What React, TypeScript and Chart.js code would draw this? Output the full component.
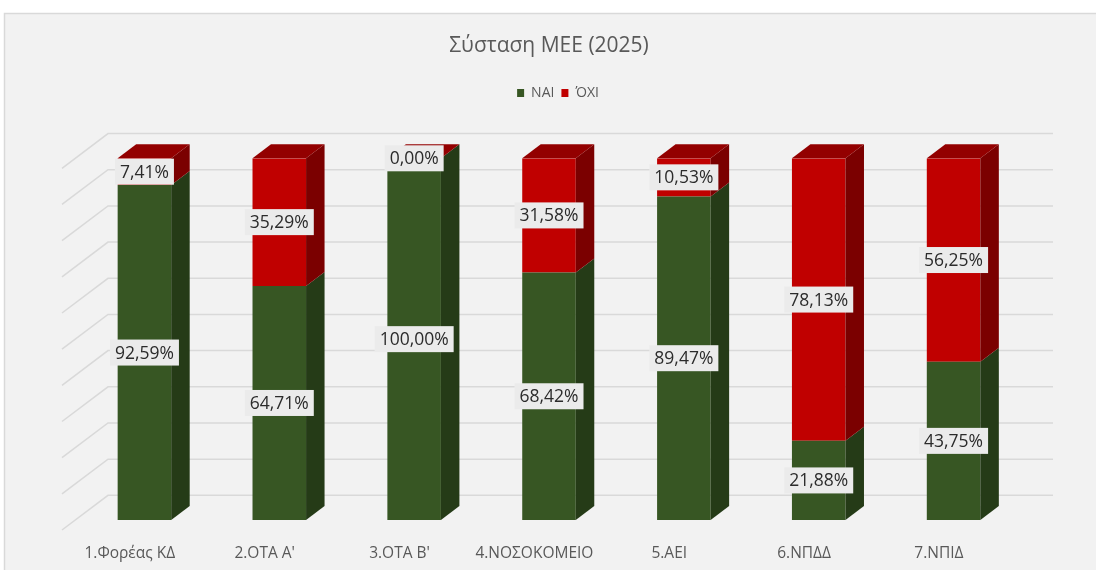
import React, { useEffect, useRef } from "react";
import { Chart, registerables } from "chart.js";

Chart.register(...registerables);

// ---- data ----
const categories = ["1.Φορέας ΚΔ", "2.ΟΤΑ Α'", "3.ΟΤΑ Β'", "4.ΝΟΣΟΚΟΜΕΙΟ", "5.ΑΕΙ", "6.ΝΠΔΔ", "7.ΝΠΙΔ"];
const yesValues = [92.59, 64.71, 100.0, 68.42, 89.47, 21.88, 43.75];
const noValues = [7.41, 35.29, 0.0, 31.58, 10.53, 78.13, 56.25];
const seriesNames = ["ΝΑΙ", "ΌΧΙ"];
const titleText = "Σύσταση ΜΕΕ (2025)";
const axisMin = 0;
const axisMax = 100;
const axisStep = 10;

// ---- styling ----
const FONT = "'Open Sans', 'Noto Sans', sans-serif";
const frontColors = ["#375623", "#c00000"];
const sideColors = ["#253b17", "#7b0000"];
const topColors = ["#2e481d", "#930000"];
const DX = 18.5;
const DY = -14;
const WALL_DX = 31;
const WALL_DY = -24.7;
const FLOOR_DX = -46;
const FLOOR_DY = 34.7;
const LEGEND_SHIFT = 9;

const fmt = (v: number) => v.toFixed(2).replace(".", ",") + "%";

const bgPlugin = {
  id: "bgPlugin",
  beforeDraw(chart: any) {
    const { ctx, width, height } = chart;
    ctx.save();
    ctx.fillStyle = "#ffffff";
    ctx.fillRect(0, 0, width, height);
    ctx.fillStyle = "#f2f2f2";
    ctx.fillRect(4, 13, width, height);
    ctx.strokeStyle = "#d9d9d9";
    ctx.lineWidth = 1.5;
    ctx.strokeRect(4.5, 13.5, width + 20, height + 20);
    ctx.restore();
  },
};

const legendShiftPlugin = {
  id: "legendShiftPlugin",
  afterLayout(chart: any) {
    if (chart.legend) {
      chart.legend.left += LEGEND_SHIFT;
      chart.legend.right += LEGEND_SHIFT;
    }
  },
};

const wallPlugin = {
  id: "wallPlugin",
  beforeDatasetsDraw(chart: any) {
    const { ctx, chartArea } = chart;
    const ys = chart.scales.y;
    const ticks = ys.ticks && ys.ticks.length ? ys.ticks.map((t: any) => t.value) : [];
    ctx.save();
    ctx.strokeStyle = "#d9d9d9";
    ctx.lineWidth = 1.5;
    const bx0 = chartArea.left + WALL_DX;
    const bx1 = chartArea.right + WALL_DX + 1;
    ticks.forEach((v: number) => {
      const py = ys.getPixelForValue(v) + WALL_DY;
      ctx.beginPath();
      ctx.moveTo(bx0 + FLOOR_DX, py + FLOOR_DY);
      ctx.lineTo(bx0, py);
      ctx.lineTo(bx1, py);
      ctx.stroke();
    });
    ctx.restore();
  },
};

const barsPlugin = {
  id: "barsPlugin",
  afterDatasetsDraw(chart: any) {
    const { ctx } = chart;
    const metas = chart.getSortedVisibleDatasetMetas();
    ctx.save();
    // side faces
    metas.forEach((meta: any, di: number) => {
      meta.data.forEach((el: any) => {
        const { x, y, base, width } = el.getProps(["x", "y", "base", "width"], true);
        const r = x + width / 2;
        if (Math.abs(base - y) < 0.01) return;
        ctx.fillStyle = sideColors[di];
        ctx.beginPath();
        ctx.moveTo(r, y);
        ctx.lineTo(r + DX, y + DY);
        ctx.lineTo(r + DX, base + DY);
        ctx.lineTo(r, base);
        ctx.closePath();
        ctx.fill();
      });
    });
    // top faces (top of stack)
    const topMeta = metas[metas.length - 1];
    topMeta.data.forEach((el: any) => {
      const { x, y, width } = el.getProps(["x", "y", "width"], true);
      const l = x - width / 2;
      const r = x + width / 2;
      ctx.fillStyle = topColors[metas.length - 1];
      ctx.beginPath();
      ctx.moveTo(l, y);
      ctx.lineTo(l + DX, y + DY);
      ctx.lineTo(r + DX, y + DY);
      ctx.lineTo(r, y);
      ctx.closePath();
      ctx.fill();
    });
    // data labels
    ctx.font = `17.5px ${FONT}`;
    ctx.textAlign = "center";
    ctx.textBaseline = "middle";
    metas.forEach((meta: any) => {
      const data = chart.data.datasets[meta.index].data;
      meta.data.forEach((el: any, i: number) => {
        const { x, y, base } = el.getProps(["x", "y", "base"], true);
        const cy = (y + base) / 2;
        const txt = fmt(data[i]);
        const w = ctx.measureText(txt).width + 10;
        const h = 26;
        ctx.fillStyle = "#ebebeb";
        ctx.fillRect(x - w / 2, cy - h / 2, w, h);
        ctx.fillStyle = "#2b2b2b";
        ctx.fillText(txt, x, cy + 1);
      });
    });
    ctx.restore();
  },
};

export default function App() {
  const ref = useRef<HTMLCanvasElement | null>(null);
  useEffect(() => {
    if (!ref.current) return;
    const chart = new Chart(ref.current, {
      type: "bar",
      data: {
        labels: categories,
        datasets: [
          {
            label: seriesNames[0],
            data: yesValues,
            backgroundColor: frontColors[0],
            borderWidth: 0,
            barPercentage: 0.397,
            categoryPercentage: 1,
          },
          {
            label: seriesNames[1],
            data: noValues,
            backgroundColor: frontColors[1],
            borderWidth: 0,
            barPercentage: 0.397,
            categoryPercentage: 1,
          },
        ],
      },
      options: {
        responsive: false,
        animation: false,
        devicePixelRatio: 1,
        layout: { padding: { top: 13, left: 77, right: 75, bottom: 0 } },
        plugins: {
          tooltip: { enabled: false },
          title: {
            display: true,
            text: titleText,
            color: "#595959",
            font: { family: FONT, size: 21, weight: "normal" },
            padding: { top: 20.4, bottom: 20.4 },
          },
          legend: {
            display: true,
            position: "top",
            labels: {
              color: "#595959",
              font: { family: FONT, size: 14 },
              boxWidth: 7,
              boxHeight: 8,
              padding: 7,
            },
          },
        },
        scales: {
          x: {
            stacked: true,
            grid: { display: false, drawTicks: false },
            border: { display: false },
            ticks: {
              color: "#595959",
              font: { family: FONT, size: 15.5 },
              padding: 24,
              labelOffset: -14.6,
              maxRotation: 0,
              autoSkip: false,
            },
            afterFit(s: any) {
              s.height = 50;
            },
          },
          topSpace: {
            type: "category",
            position: "top",
            display: true,
            grid: { display: false, drawTicks: false },
            border: { display: false },
            ticks: { display: false },
            afterFit(s: any) {
              s.height = 48.3;
            },
          },
          y: {
            stacked: true,
            display: false,
            min: axisMin,
            max: axisMax,
            ticks: { stepSize: axisStep },
          },
        },
      },
      plugins: [bgPlugin, legendShiftPlugin, wallPlugin, barsPlugin],
    } as any);
    return () => chart.destroy();
  }, []);
  return (
    <div style={{ position: "absolute", left: 0, top: 0, width: 1096, height: 570 }}>
      <canvas ref={ref} width={1096} height={570} />
    </div>
  );
}
